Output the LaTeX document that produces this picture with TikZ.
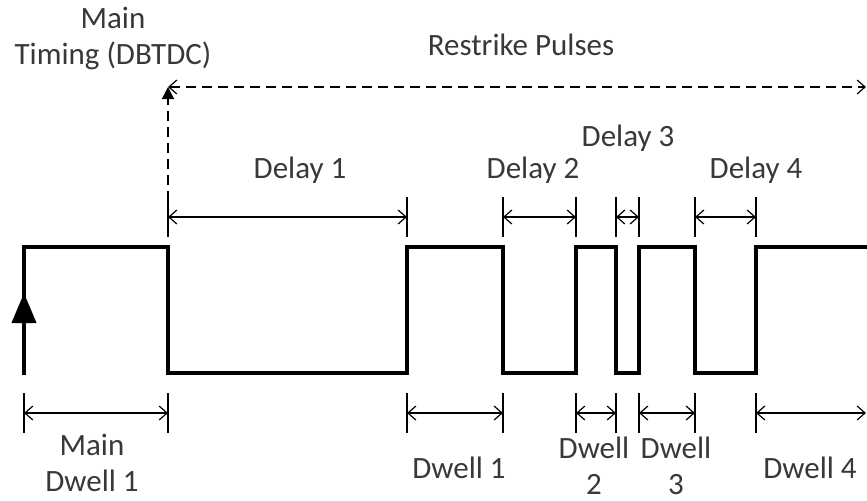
\documentclass[tikz,border=0pt]{standalone}
\usepackage{fontspec}
\setmainfont{Carlito}
\usetikzlibrary{arrows.meta}

\tikzset{
  pulse/.style={line width=2pt, line join=miter},
  barb/.tip={Straight Barb[length=4pt,width=7pt]},
  dimline/.style={line width=0.6pt, barb-barb},
  tickline/.style={line width=0.6pt},
  guide/.style={line width=0.6pt, dash pattern=on 5pt off 3pt},
  lbl/.style={text=black!78, font=\fontsize{15.5}{18}\selectfont, align=center, inner sep=0pt},
}

\begin{document}
\begin{tikzpicture}[x=0.5pt,y=-0.5pt]
            \useasboundingbox (0,0) rectangle (867,500);

            % 1. Jel sarokpontjai (hi/lo-betu formaban)
            \foreach \name/\x in {a/24,b/168,c/407,d/503,e/576,f/616,g/639,h/695,i/756,j/869} {
                \coordinate (hi-\name) at (\x,247);
                \coordinate (lo-\name) at (\x,373);
            }
            \coordinate (start) at (24,375);
            \coordinate (tipA) at (24,293);

            % 2. A jel kirajzolasa
            \draw[pulse] (start) -- (hi-a) -- (hi-b) -- (lo-b) -- (lo-c) -- (hi-c)
                -- (hi-d) -- (lo-d) -- (lo-e) -- (hi-e) -- (hi-f) -- (lo-f)
                -- (lo-g) -- (hi-g) -- (hi-h) -- (lo-h) -- (lo-i) -- (hi-i)
                -- (hi-j) -- (lo-j);
            \draw[pulse, -{Triangle[length=15pt,width=12pt]}] (start) -- (tipA);

            % 3. Szaggatott vonalak
            \coordinate (mt) at (168,87);
            \coordinate (mtfoot) at (168,233);
            \coordinate (rp) at (866,87);
            \draw[guide, -{Triangle[length=6pt,width=6pt]}] (mtfoot) -- (mt);
            \draw[guide, barb-barb] (mt) -- (rp);

            % 4. Kesleltetesek (felso meretvonalak)
            \foreach \name/\x in {b/168,c/407,d/503,e/576,f/616,g/639,h/695,i/756} {
                \coordinate (up-\name) at (\x,217);
                \draw[tickline] ([yshift=-10pt]up-\name) -- ([yshift=10pt]up-\name);
            }
            \draw[dimline] (up-b) -- (up-c);
            \draw[dimline] (up-d) -- (up-e);
            \draw[dimline] (up-f) -- (up-g);
            \draw[dimline] (up-h) -- (up-i);

            % 5. Tartasok (also meretvonalak)
            \foreach \name/\x in {a/24,b/168,c/407,d/503,e/576,f/616,g/639,h/695,i/756} {
                \coordinate (dn-\name) at (\x,413);
                \draw[tickline] ([yshift=-10pt]dn-\name) -- ([yshift=10pt]dn-\name);
            }
            \coordinate (dn-j) at (866,413);
            \draw[dimline] (dn-a) -- (dn-b);
            \draw[dimline] (dn-c) -- (dn-d);
            \draw[dimline] (dn-e) -- (dn-f);
            \draw[dimline] (dn-g) -- (dn-h);
            \draw[dimline] (dn-i) -- (dn-j);

            % 6. Feliratok
            \node[lbl] (mainTiming) at (113,38) {Main\\Timing (DBTDC)};
            \node[lbl] (restrike) at (521,45) {Restrike Pulses};
            \node[lbl] (delay1) at (300,170) {Delay 1};
            \node[lbl] (delay2) at (533,170) {Delay 2};
            \node[lbl] (delay3) at (628,138) {Delay 3};
            \node[lbl] (delay4) at (756,170) {Delay 4};
            \node[lbl] (mainDwell) at (92,463) {Main\\Dwell 1};
            \node[lbl] (dwell1) at (459,468) {Dwell 1};
            \node[lbl] (dwell2) at (594,466) {Dwell\\2};
            \node[lbl] (dwell3) at (676,466) {Dwell\\3};
            \node[lbl] (dwell4) at (810,468) {Dwell 4};
        \end{tikzpicture}
\end{document}
